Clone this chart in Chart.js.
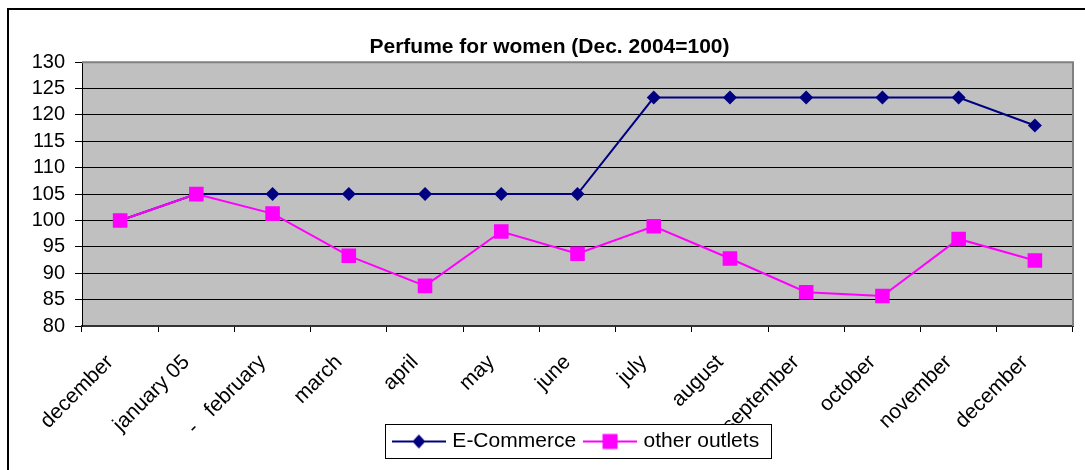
<!DOCTYPE HTML>
<html>
<head>
  <title>Perfume for women</title>
  <meta content="width=device-width, initial-scale=1.0" name="viewport">
  <script src="https://cdn.jsdelivr.net/npm/chart.js"></script>
  <style>
    body { margin: 0; background: #fff; }
    .chart-container { position: relative; width: 1085px; height: 470px; }
  </style>
</head>
<body>
  <div class="chart-container">
    <canvas id="perfumeChart"></canvas>
  </div>

  <script type="text/javascript">

    var xmonths     = ["december", "january 05", "-   february", "march", "april", "may", "june", "july", "august", "september", "october", "november", "december"];
    var yEcommerce  = [100, 105, 105, 105, 105, 105, 105, 123.3, 123.3, 123.3, 123.3, 123.3, 118];
    var yOther      = [100, 105, 101.3, 93.3, 87.6, 97.9, 93.7, 98.9, 92.8, 86.4, 85.7, 96.5, 92.4];
    var yMin = 80, yMax = 130, yStep = 5;

    var chartColors = { navy: '#000080', magenta: '#FF00FF', plot: '#C0C0C0', frame: '#808080' };
    var fontFam = "'Liberation Sans', Arial, sans-serif";

    // little line+marker pictures for the legend
    function legendSymbol(color, shape)
    {
      var c = document.createElement('canvas');
      c.width = 54; c.height = 18;
      var g = c.getContext('2d');
      g.strokeStyle = color; g.lineWidth = 2;
      g.beginPath(); g.moveTo(0, 9); g.lineTo(54, 9); g.stroke();
      g.fillStyle = color;
      if (shape == 'diamond')
      {
        g.beginPath(); g.moveTo(27, 2); g.lineTo(33.5, 9); g.lineTo(27, 16); g.lineTo(20.5, 9); g.closePath(); g.fill();
      }
      else
      {
        g.fillRect(19.5, 1.5, 15, 15);
      }
      return c;
    }
    var symEco   = legendSymbol(chartColors.navy, 'diamond');
    var symOther = legendSymbol(chartColors.magenta, 'square');

    var framePlugin = {
      id: 'framePlugin',
      beforeDraw: function (chart) {
        var ctx = chart.ctx, a = chart.chartArea;
        ctx.save();
        ctx.fillStyle = '#fff';
        ctx.fillRect(0, 0, chart.width, chart.height);
        ctx.strokeStyle = '#000'; ctx.lineWidth = 2;
        ctx.strokeRect(8, 9, chart.width + 20, chart.height + 20);
        ctx.fillStyle = chartColors.plot;
        ctx.fillRect(a.left, a.top, a.right - a.left, a.bottom - a.top);
        ctx.restore();
      },
      beforeDatasetsDraw: function (chart) {
        var ctx = chart.ctx, a = chart.chartArea;
        ctx.save();
        ctx.strokeStyle = chartColors.frame; ctx.lineWidth = 2;
        ctx.beginPath();
        ctx.moveTo(a.left, a.top); ctx.lineTo(a.right, a.top); ctx.lineTo(a.right, a.bottom);
        ctx.stroke();
        ctx.restore();
      },
      afterDraw: function (chart) {
        // white legend box with a frame, drawn over the rotated month labels
        var lg = chart.legend, hb = lg.legendHitBoxes;
        if (!hb || !hb.length) return;
        var l = Math.min.apply(null, hb.map(function (h) { return h.left; })) - 11;
        var r = Math.max.apply(null, hb.map(function (h) { return h.left + h.width; })) + 12;
        var t = hb[0].top - 7, b = hb[0].top + hb[0].height + 6;
        var ctx = chart.ctx;
        ctx.save();
        ctx.fillStyle = '#fff';
        ctx.fillRect(l, t, r - l, b - t);
        ctx.strokeStyle = '#000'; ctx.lineWidth = 1;
        ctx.strokeRect(Math.round(l) + 0.5, Math.round(t) + 0.5, Math.round(r - l), Math.round(b - t));
        ctx.restore();
        lg.draw();
      }
    };

    var ctx_perfume = document.getElementById('perfumeChart');

    var Chartperfume = new Chart(ctx_perfume, {
      type: 'line',
      plugins: [framePlugin],
      data: {
        labels: xmonths,
        datasets: [
          {
            label: 'E-Commerce',
            data: yEcommerce,
            borderColor: chartColors.navy,
            backgroundColor: chartColors.navy,
            borderWidth: 2,
            pointStyle: 'rectRot',
            pointRadius: 7,
            pointHoverRadius: 7,
            pointBorderWidth: 0,
            tension: 0,
            order: 1
          },
          {
            label: 'other outlets',
            data: yOther,
            borderColor: chartColors.magenta,
            backgroundColor: chartColors.magenta,
            borderWidth: 2,
            pointStyle: 'rect',
            pointRadius: 10.3,
            pointHoverRadius: 10.3,
            pointBorderWidth: 0,
            tension: 0,
            order: 0
          }
        ]
      },
      options: {
        responsive: true,
        maintainAspectRatio: false,
        animation: false,
        layout: { padding: { left: 26, right: 12, top: 0, bottom: 8 } },
        scales: {
          x: {
            offset: true,
            grid: { display: true, offset: true, drawOnChartArea: false, drawTicks: true, tickLength: 6, color: '#000' },
            border: { display: true, color: '#333', width: 2 },
            ticks: { color: '#000', font: { size: 21, family: fontFam }, minRotation: 45, maxRotation: 45, autoSkip: false, padding: 18, labelOffset: -10 },
            afterFit: function (s) {
              s.height = 94;
              // labels run below the axis box (under the legend), so no clipping
              s._computeLabelArea = function () { return null; };
            }
          },
          y: {
            min: yMin,
            max: yMax,
            grid: { color: '#000', lineWidth: 1, tickLength: 7, drawTicks: true },
            border: { display: true, color: '#000', width: 1 },
            ticks: { stepSize: yStep, autoSkip: false, color: '#000', font: { size: 20, family: fontFam }, padding: 10 },
            afterFit: function (s) { s.width = 56; }
          }
        },
        plugins: {
          title: {
            display: true,
            text: 'Perfume for women (Dec. 2004=100)',
            color: '#000',
            font: { size: 21, weight: 'bold', family: fontFam, lineHeight: 1.2 },
            padding: { top: 35, bottom: 2 }
          },
          legend: {
            position: 'bottom',
            fullSize: false,
            labels: {
              usePointStyle: true,
              pointStyleWidth: 46,
              boxHeight: 18,
              padding: 11,
              color: '#000',
              font: { size: 21, family: fontFam },
              generateLabels: function (chart) {
                return [
                  { text: 'E-Commerce', pointStyle: symEco, fillStyle: chartColors.navy, strokeStyle: chartColors.navy, lineWidth: 0, hidden: false, datasetIndex: 0 },
                  { text: 'other outlets', pointStyle: symOther, fillStyle: chartColors.magenta, strokeStyle: chartColors.magenta, lineWidth: 0, hidden: false, datasetIndex: 1 }
                ];
              }
            }
          },
          tooltip: { enabled: false }
        }
      }
    });

  </script>
</body>
</html>
